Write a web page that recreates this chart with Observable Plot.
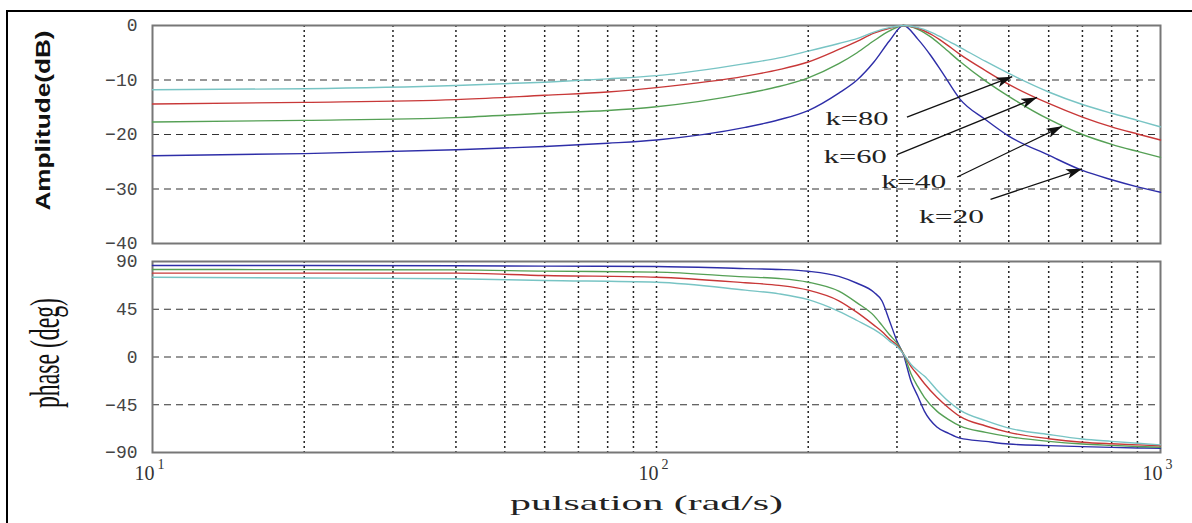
<!DOCTYPE html>
<html>
<head>
<meta charset="utf-8">
<script src="https://cdn.jsdelivr.net/npm/d3@7"></script>
<script src="https://cdn.jsdelivr.net/npm/@observablehq/plot@0.6"></script>
<style>
  html, body { margin: 0; padding: 0; background: #fff; }
  #chart { position: relative; width: 1192px; height: 523px; overflow: hidden; background: #fff; }
  #amp, #phase { position: absolute; left: 0; }
  #amp { top: 0; }
  #phase { top: 250px; }
  #border { position: absolute; left: 6px; top: 10px; width: 1300px; height: 700px;
            border-left: 2px solid #000; border-top: 2px solid #000; pointer-events: none; }
</style>
</head>
<body>
<div id="chart">
  <div id="amp"></div>
  <div id="phase"></div>
  <div id="border"></div>
</div>
<script>
// Series names and colours (gain k of the resonant filter)
const seriesKeys = ["k=20", "k=40", "k=60", "k=80"];
const seriesColors = ["#2e2ea8", "#55a055", "#c83838", "#78c4c4"];

// Magnitude response (dB) sampled at these pulsations (rad/s)
const omegaAmp = [10, 20, 40, 60, 80, 100, 150, 175, 200, 230, 250, 270, 290, 309, 330, 350, 370, 400, 450, 500, 600, 700, 800, 900, 1000];
const ampK20 = [-23.9, -23.5, -22.8, -22.2, -21.6, -21.0, -18.7, -17.3, -15.6, -12.4, -10.0, -6.7, -2.8, 0, -2.5, -5.5, -8.8, -13.5, -17.3, -20.3, -23.8, -26.6, -28.3, -29.6, -30.6];
const ampK40 = [-17.7, -17.4, -16.9, -16.1, -15.6, -14.9, -12.5, -11.2, -9.6, -7.0, -5.0, -2.8, -1.0, 0, -0.7, -2.1, -3.9, -6.6, -10.2, -13.0, -17.2, -20.0, -21.8, -23.1, -24.2];
const ampK60 = [-14.4, -14.1, -13.6, -12.8, -12.2, -11.4, -9.3, -8.1, -6.7, -4.4, -2.9, -1.4, -0.5, 0, -0.5, -1.6, -3.0, -5.3, -8.3, -10.8, -14.3, -16.8, -18.6, -19.9, -21.0];
const ampK80 = [-11.8, -11.6, -11.0, -10.4, -9.8, -9.2, -7.0, -5.95, -4.7, -3.3, -2.4, -1.2, -0.4, 0, -0.4, -1.2, -2.3, -4.0, -6.6, -8.8, -12.2, -14.5, -16.1, -17.4, -18.6];

// Phase response (deg) sampled at these pulsations (rad/s)
const omegaPhase = [10, 20, 40, 60, 100, 150, 175, 200, 230, 250, 270, 280, 290, 300, 309, 320, 330, 340, 360, 380, 400, 450, 500, 600, 700, 800, 900, 1000];
const phaseK20 = [86.2, 86.2, 86.0, 85.6, 85.3, 83.3, 82.5, 80.8, 76, 69.5, 61, 53, 34, 15, 2, -23, -37, -51, -66, -72, -76.5, -79.5, -82, -83.5, -84.5, -85.2, -85.7, -86];
const phaseK40 = [82.5, 82.3, 82.1, 80.9, 80.0, 75.5, 74, 70.5, 62, 51, 39, 30, 21, 13, 3, -16, -28, -38, -51, -59, -65, -71, -75, -79.5, -82, -83.3, -84.3, -85];
const phaseK60 = [79, 79, 79, 76.8, 75.2, 70, 67.5, 63, 53, 42, 30, 24, 17, 11, 3, -9, -17, -25, -38, -48, -56, -65, -71, -77, -80.3, -81.8, -82.8, -83.6];
const phaseK80 = [75.2, 74.5, 73.7, 72.1, 70.5, 63, 59.5, 54, 43, 34.4, 26, 21, 15, 10, 3, -7, -13, -18, -31, -42, -50, -60, -67, -73, -77.3, -79.5, -81.3, -82.8];

// Axis ticks and grid
const ampTicks = [0, -10, -20, -30, -40];
const ampGrid = [-10, -20, -30];
const phaseTicks = [90, 45, 0, -45, -90];
const phaseGrid = [45, 0, -45];
const gridOmega = [20, 30, 40, 50, 60, 70, 80, 90, 100, 200, 300, 400, 500, 600, 700, 800, 900];
const decades = [10, 100, 1000];
const decadeExponents = ["1", "2", "3"];

// Curve labels with their arrows (pulsation, dB)
const noteLabels = ["k=80", "k=60", "k=40", "k=20"];
const noteLabelW = [250, 248, 324, 385];
const noteLabelDb = [-17.2, -24.1, -28.7, -35.1];
const noteTailW = [314, 300, 395, 460];
const noteTailDb = [-16.8, -23.7, -27.8, -31.9];
const noteTipW = [508, 569, 638, 699];
const noteTipDb = [-9.4, -13.2, -18.5, -26.3];

const ampSeries = [ampK20, ampK40, ampK60, ampK80];
const phaseSeries = [phaseK20, phaseK40, phaseK60, phaseK80];

const ampRows = seriesKeys.flatMap((k, i) => omegaAmp.map((w, j) => ({k, omega: w, value: ampSeries[i][j]})));
const phaseRows = seriesKeys.flatMap((k, i) => omegaPhase.map((w, j) => ({k, omega: w, value: phaseSeries[i][j]})));
const notes = noteLabels.map((label, i) => ({
  label, lw: noteLabelW[i], ldb: noteLabelDb[i],
  tw: noteTailW[i], tdb: noteTailDb[i], hw: noteTipW[i], hdb: noteTipDb[i]
}));

// Text whose rendered length is fixed (lengthAdjust)
const textLengths = {
  "Amplitude(dB)": 180, "phase (deg)": 110, "pulsation (rad/s)": 273,
  "k=80": 63, "k=60": 63, "k=40": 65, "k=20": 65
};

const xScale = {type: "log", domain: [10, 1000], axis: null};
const colorScale = {domain: seriesKeys, range: seriesColors};
const hGrid = {stroke: "#333", strokeWidth: 1.2, strokeDasharray: "7,5"};
const vGrid = {stroke: "#222", strokeWidth: 1.5, strokeDasharray: "2,3"};
const tickFont = {tickSize: 0, tickPadding: 15, fontSize: 18, fontFamily: "Liberation Mono, monospace", color: "#444", label: null};

const ampPlot = Plot.plot({
  width: 1192, height: 250,
  marginLeft: 152, marginRight: 32, marginTop: 25, marginBottom: 7,
  style: {background: "transparent", overflow: "visible"},
  x: xScale,
  y: {domain: [-40, 0], axis: null},
  color: colorScale,
  marks: [
    Plot.ruleX(gridOmega, vGrid),
    Plot.ruleY(ampGrid, hGrid),
    Plot.frame({stroke: "#777", strokeWidth: 2}),
    Plot.axisY(ampTicks, tickFont),
    Plot.line(ampRows, {x: "omega", y: "value", z: "k", stroke: "k", strokeWidth: 1.4, curve: "monotone-x"}),
    Plot.link(notes, {x1: "tw", y1: "tdb", x2: "hw", y2: "hdb", stroke: "#111", strokeWidth: 1.3}),
    Plot.text(notes, {x: "lw", y: "ldb", text: "label", fontSize: 18, fontFamily: "Liberation Serif, serif", fill: "#222"}),
    Plot.text(["Amplitude(dB)"], {text: d => d, frameAnchor: "left", textAnchor: "middle", rotate: -90, dx: -109, dy: -14,
      fontSize: 20, fontWeight: "bold", fontFamily: "Liberation Sans, sans-serif", fill: "#111"})
  ]
});

const phasePlot = Plot.plot({
  width: 1192, height: 273,
  marginLeft: 152, marginRight: 32, marginTop: 11, marginBottom: 71,
  style: {background: "transparent", overflow: "visible"},
  x: xScale,
  y: {domain: [-90, 90], axis: null},
  color: colorScale,
  marks: [
    Plot.ruleX(gridOmega, vGrid),
    Plot.ruleY(phaseGrid, hGrid),
    Plot.frame({stroke: "#777", strokeWidth: 2}),
    Plot.axisY(phaseTicks, tickFont),
    Plot.line(phaseRows, {x: "omega", y: "value", z: "k", stroke: "k", strokeWidth: 1.4, curve: "monotone-x"}),
    Plot.text(decades, {x: d => d, text: () => "10", frameAnchor: "bottom", textAnchor: "end", dx: 2, dy: 27,
      fontSize: 20, fontFamily: "Liberation Serif, serif", fill: "#333"}),
    Plot.text(decades, {x: d => d, text: (d, i) => decadeExponents[i], frameAnchor: "bottom", textAnchor: "start", dx: 5, dy: 16,
      fontSize: 14, fontFamily: "Liberation Serif, serif", fill: "#333"}),
    Plot.text(["phase (deg)"], {text: d => d, frameAnchor: "left", textAnchor: "middle", rotate: -90, dx: -107, dy: -4,
      fontSize: 42, fontFamily: "Liberation Serif, serif", fill: "#111"}),
    Plot.text(["pulsation (rad/s)"], {text: d => d, frameAnchor: "bottom", textAnchor: "middle", dx: -10, dy: 57,
      fontSize: 22, fontFamily: "Liberation Serif, serif", fill: "#222"})
  ]
});

// Fixed text lengths and filled arrowheads
for (const svg of [ampPlot, phasePlot]) {
  d3.select(svg).selectAll("text").each(function () {
    const L = textLengths[this.textContent];
    if (L) d3.select(this).attr("textLength", L).attr("lengthAdjust", "spacingAndGlyphs");
  });
}
const ampSvg = d3.select(ampPlot);
ampSvg.append("defs").append("marker")
  .attr("id", "arrowhead").attr("viewBox", "0 0 16 10")
  .attr("refX", 16).attr("refY", 5)
  .attr("markerWidth", 16).attr("markerHeight", 10)
  .attr("markerUnits", "userSpaceOnUse").attr("orient", "auto")
  .append("path").attr("d", "M0,0L16,5L0,10L4,5Z").attr("fill", "#111");
ampSvg.selectAll('g[aria-label="link"] path').attr("marker-end", "url(#arrowhead)");

document.getElementById("amp").append(ampPlot);
document.getElementById("phase").append(phasePlot);
</script>
</body>
</html>
